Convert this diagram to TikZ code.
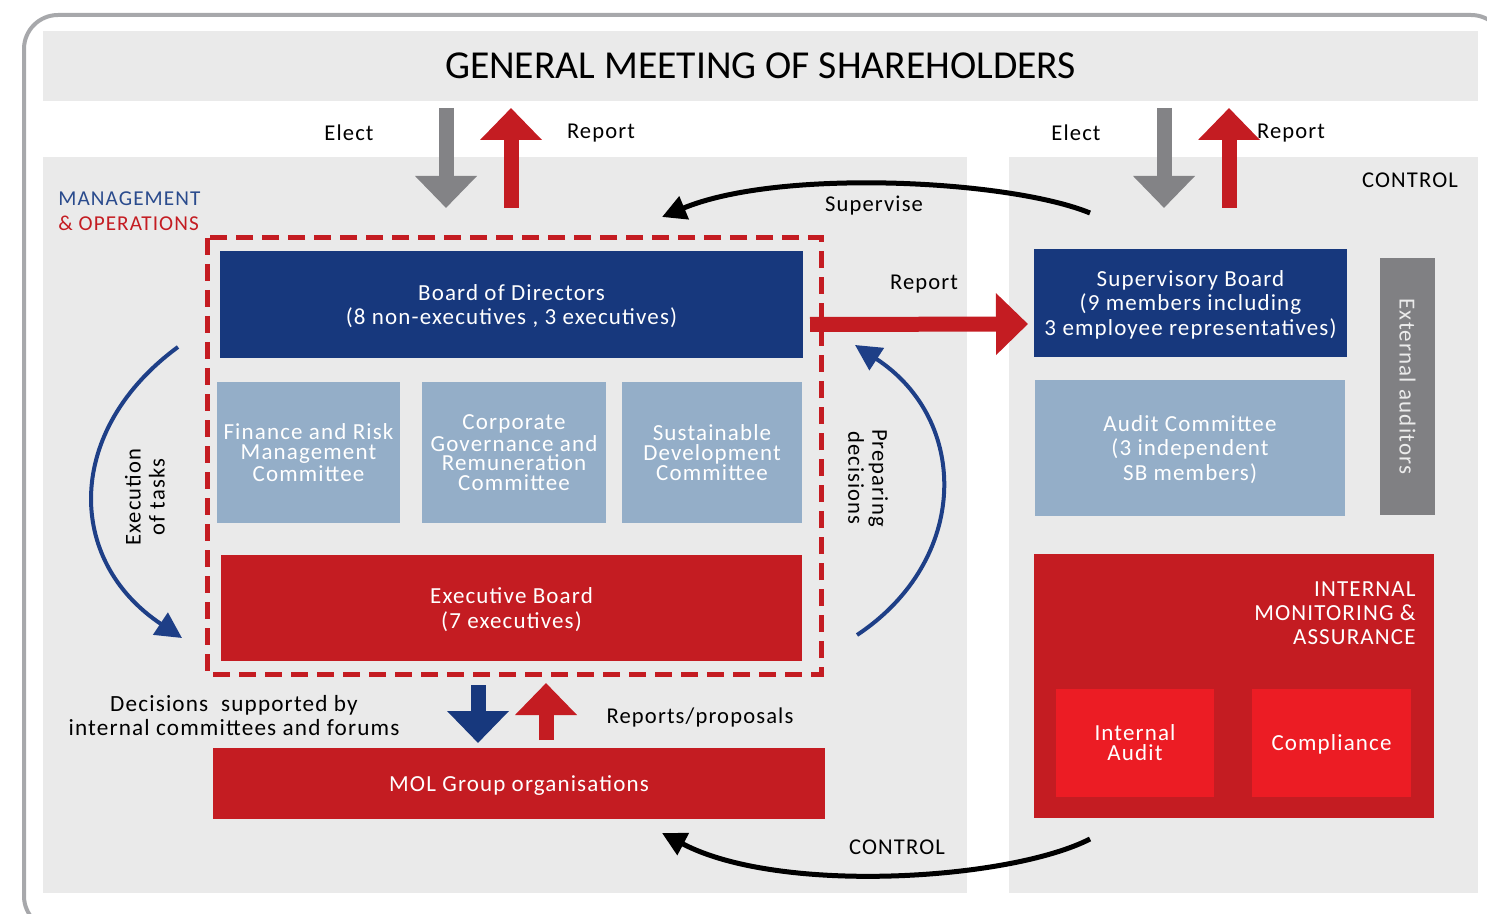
\documentclass[tikz,border=0pt]{standalone}
\usepackage{fontspec}
\setmainfont{Carlito}[LetterSpace=5]
\newfontfamily\titlefont{Carlito}
\usetikzlibrary{arrows.meta,positioning}

\definecolor{panelgray}{HTML}{EAEAEA}
\definecolor{molblue}{HTML}{17387D}
\definecolor{molsky}{HTML}{94AEC8}
\definecolor{molred}{HTML}{C41C22}
\definecolor{molbright}{HTML}{EC1C24}
\definecolor{arrowgray}{HTML}{838386}
\definecolor{extgray}{HTML}{808083}
\definecolor{framegray}{HTML}{A7A8AB}
\definecolor{curveblue}{HTML}{1E3F87}
\definecolor{mgmtblue}{HTML}{2A4B8D}

\begin{document}
\begin{tikzpicture}[x=0.5pt,y=-0.5pt]
    \useasboundingbox (0,0) rectangle (1487,914);

    % --------------------
    % Estilos
    % --------------------
    \tikzset{
        box/.style={inner sep=0pt, outer sep=0pt, align=center, text=white, text depth=0pt,
            font=\fontsize{11.5}{12.2}\selectfont},
        cmt/.style={box, fill=molsky, minimum width=91.5pt, minimum height=70.5pt,
            font=\fontsize{11.5}{9.8}\selectfont},
        lbl/.style={inner sep=0pt, align=center, font=\fontsize{11.3}{12}\selectfont},
        bigarrow/.style={line width=7.5pt, -{Triangle[width=30pt,length=16pt]}},
        curve/.style={line width=2pt, -{Triangle[width=13pt,length=13pt]}},
        blackcurve/.style={line width=2.5pt, -{Triangle[width=12pt,length=12pt]}}
    }

    % --------------------
    % Moldura e fundos
    % --------------------
    \draw[framegray, line width=2pt, rounded corners=17pt] (24,15) rectangle (1505,930);

    \node[fill=panelgray, inner sep=0pt, minimum width=717.5pt, minimum height=35pt, text depth=0pt,
        font=\titlefont\fontsize{19.8}{22}\selectfont] (gms) at (760.5,66) {GENERAL MEETING OF SHAREHOLDERS};
    \node[fill=panelgray, inner sep=0pt, minimum width=462pt, minimum height=368pt] (mgmt) at (505,525) {};
    \node[fill=panelgray, inner sep=0pt, minimum width=234.5pt, minimum height=368pt] (ctrl) at (1243.5,525) {};

    % --------------------
    % Eleger / reportar
    % --------------------
    \coordinate (elA) at (446,108);  \coordinate (elB) at (446,208);
    \coordinate (rpA) at (511,208);  \coordinate (rpB) at (511,108);
    \coordinate (elC) at (1164,108); \coordinate (elD) at (1164,208);
    \coordinate (rpC) at (1229,208); \coordinate (rpD) at (1229,108);
    \draw[bigarrow, arrowgray] (elA) -- (elB);
    \draw[bigarrow, molred] (rpA) -- (rpB);
    \draw[bigarrow, arrowgray] (elC) -- (elD);
    \draw[bigarrow, molred] (rpC) -- (rpD);

    \node[lbl] (elect1) at (349,133) {Elect};
    \node[lbl] (report1) at (601,133) {Report};
    \node[lbl] (elect2) at (1076,133) {Elect};
    \node[lbl] (report2) at (1291,133) {Report};
    \node[lbl] (control1) at (1410,180) {CONTROL};

    \node[inner sep=0pt, anchor=west, align=left, font=\fontsize{10.6}{12.4}\selectfont]
        (mgmtlbl) at (58,211) {\textcolor{mgmtblue}{MANAGEMENT}\\\textcolor{molred}{\& OPERATIONS}};

    % --------------------
    % Gestao
    % --------------------
    \draw[molred, line width=2.5pt, dash pattern=on 8.5pt off 4.5pt] (207,238) rectangle (821,674);

    \node[box, fill=molblue, minimum width=291.5pt, minimum height=53.5pt] (bod) at (511.5,304.5)
        {Board of Directors\\(8 non-executives , 3 executives)};
    \node[cmt] (frmc) at (308.5,452.5)
        {Finance and Risk\\Management\\Committee};
    \node[cmt, minimum width=92pt] (cgrc) at (514,452.5)
        {Corporate\\Governance and\\Remuneration\\Committee};
    \node[cmt, minimum width=90pt] (sdc) at (712,452.5)
        {Sustainable\\Development\\Committee};
    \node[box, fill=molred, minimum width=290.5pt, minimum height=53pt] (eb) at (511.5,608)
        {Executive Board\\(7 executives)};

    \coordinate (exA) at (178,347);
    \coordinate (exB) at (182,638);
    \draw[curve, curveblue] (exA) .. controls (65,430) and (65,560) .. (exB);
    \node[lbl, rotate=90] (exlbl) at (145,497) {Execution\\of tasks};

    \coordinate (prA) at (857,635);
    \coordinate (prB) at (855,345);
    \draw[curve, curveblue] (prA) .. controls (970,560) and (970,420) .. (prB);
    \node[lbl, rotate=-90] (prlbl) at (868,478) {Preparing\\decisions};

    % --------------------
    % Organizacoes
    % --------------------
    \node[box, fill=molred, minimum width=306pt, minimum height=35.5pt] (mol) at (519,783.5)
        {MOL Group organisations};

    \coordinate (dcA) at (478,685); \coordinate (dcB) at (478,743);
    \coordinate (rsA) at (546,740); \coordinate (rsB) at (546,683);
    \draw[bigarrow, molblue] (dcA) -- (dcB);
    \draw[bigarrow, molred] (rsA) -- (rsB);

    \node[lbl, font=\fontsize{11.6}{12}\selectfont] (declbl) at (234,716)
        {Decisions\ \ supported by\\internal committees and forums};
    \node[lbl] (rsplbl) at (700,717) {Reports/proposals};

    % --------------------
    % Controle
    % --------------------
    \node[box, fill=molblue, minimum width=156.5pt, minimum height=54pt] (sb) at (1190.5,303)
        {Supervisory Board\\(9 members including\\3 employee representatives)};
    \node[box, fill=molsky, minimum width=155pt, minimum height=68pt] (ac) at (1190,448)
        {Audit Committee\\(3 independent\\SB members)};
    \node[fill=extgray, inner sep=0pt, minimum width=27.5pt, minimum height=128.5pt] (ext) at (1407.5,386.5) {};
    \node[lbl, rotate=-90, text=white!92!black, font=\fontsize{11.5}{12}\selectfont] (extlbl) at (ext.center) {External auditors};

    \node[fill=molred, inner sep=0pt, minimum width=200pt, minimum height=132pt] (ima) at (1234,686) {};
    \node[inner sep=0pt, anchor=north east, align=right, text=white,
        font=\fontsize{11.5}{12}\selectfont] (imalbl) at (1416,581)
        {INTERNAL\\MONITORING \&\\ASSURANCE};
    \node[box, fill=molbright, minimum width=79pt, minimum height=54pt,
        font=\fontsize{11.5}{10}\selectfont] (ia) at (1135,743) {Internal\\Audit};
    \node[box, fill=molbright, minimum width=79.5pt, minimum height=54pt] (comp) at (1331.5,743) {Compliance};

    % --------------------
    % Setas entre os lados
    % --------------------
    \draw[bigarrow, molred] ([shift={(7,20)}]bod.east) -- ([shift={(-6,21)}]sb.west);
    \node[lbl] (report3) at (924,284) {Report};

    \coordinate (spA) at (1090,213);
    \coordinate (spB) at (662,217);
    \draw[blackcurve] (spA) .. controls (1010,180) and (780,168) .. (spB);
    \node[lbl] (splbl) at (874,206) {Supervise};

    \coordinate (ctA) at (1090,839);
    \coordinate (ctB) at (662,833);
    \draw[blackcurve] (ctA) .. controls (1010,880) and (780,895) .. (ctB);
    \node[lbl] (control2) at (897,847) {CONTROL};

\end{tikzpicture}
\end{document}
